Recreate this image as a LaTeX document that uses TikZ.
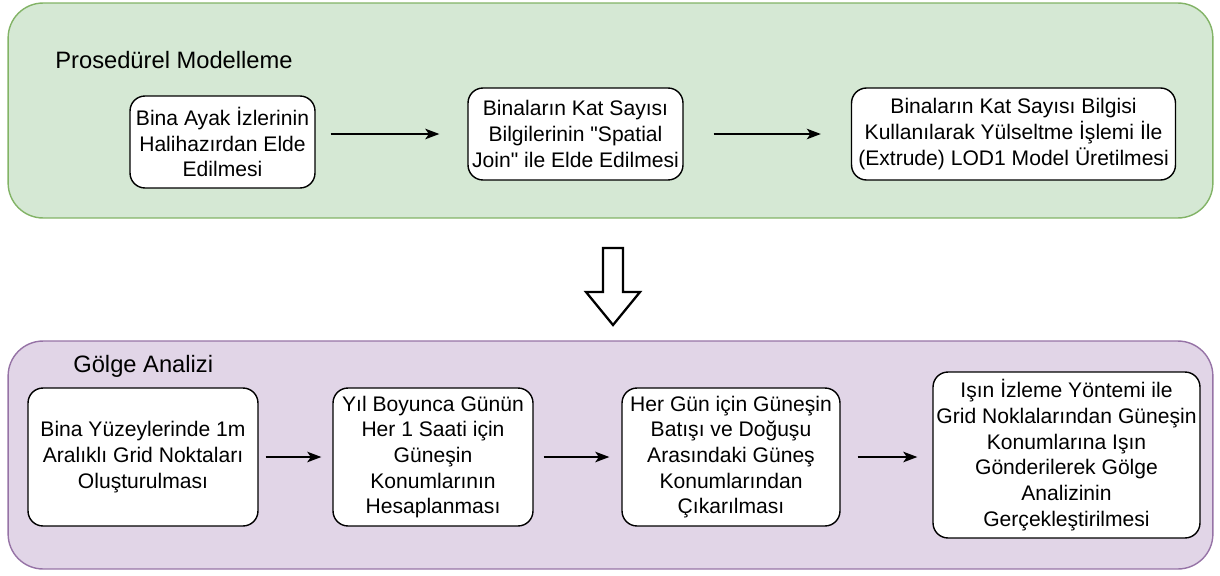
\documentclass[tikz,border=0pt]{standalone}
\usepackage{fontspec}
\setmainfont{Liberation Sans}[Ligatures=TeXOff]
\usetikzlibrary{arrows.meta}

\definecolor{modelfill}{HTML}{D5E8D4}
\definecolor{modeldraw}{HTML}{82B366}
\definecolor{shadefill}{HTML}{E1D5E7}
\definecolor{shadedraw}{HTML}{9673A6}

\tikzset{
    panel/.style={draw, line width=0.8pt, rounded corners=0.7cm, inner sep=0pt},
    stepbox/.style={draw, fill=white, line width=0.8pt, rounded corners=0.3cm,
        align=center, inner sep=0pt, minimum height=1.84cm,
        font=\fontsize{12}{14.6}\selectfont},
    flow/.style={-{Stealth[length=8pt,width=6pt,inset=2pt]}, line width=0.8pt},
    paneltitle/.style={anchor=west, inner sep=0pt, font=\fontsize{13.5}{16}\selectfont}
}

\begin{document}
\begin{tikzpicture}[x=0.02cm, y=-0.02cm]  % one unit is one pixel of the sketch
    \useasboundingbox (0,0) rectangle (1220,575);

    % Draw the two panels
    \node[panel, fill=modelfill, draw=modeldraw, minimum width=24.1cm, minimum height=4.3cm]
        (model) at (610.5,110.5) {};
    \node[panel, fill=shadefill, draw=shadedraw, minimum width=24.1cm, minimum height=4.56cm]
        (shadow) at (610.5,455) {};

    % Panel titles
    \node[paneltitle] (modeltitle) at (55,60) {Prosedürel Modelleme};
    \node[paneltitle] (shadowtitle) at (73,366) {Gölge Analizi};

    % Steps of the procedural modelling
    \node[stepbox, minimum width=3.7cm] (foot) at (222.5,142)
        {Bina Ayak İzlerinin\\Halihazırdan Elde\\Edilmesi};
    \node[stepbox, minimum width=4.3cm] (join) at (575.5,134)
        {Binaların Kat Sayısı\\Bilgilerinin "Spatial\\Join" ile Elde Edilmesi};
    \node[stepbox, minimum width=6.48cm] (lod) at (1013.5,134)
        {Binaların Kat Sayısı Bilgisi\\Kullanılarak Yülseltme İşlemi İle\\(Extrude) LOD1 Model Üretilmesi};

    % Steps of the shadow analysis
    \node[stepbox, minimum width=4.6cm, minimum height=2.76cm] (grid) at (143,457)
        {Bina Yüzeylerinde 1m\\Aralıklı Grid Noktaları\\Oluşturulması};
    \node[stepbox, minimum width=4cm, minimum height=2.76cm] (sun) at (433,457)
        {Yıl Boyunca Günün\\Her 1 Saati için\\Güneşin\\Konumlarının\\Hesaplanması};
    \node[stepbox, minimum width=4.36cm, minimum height=2.76cm] (night) at (731,457)
        {Her Gün için Güneşin\\Batışı ve Doğuşu\\Arasındaki Güneş\\Konumlarından\\Çıkarılması};
    \node[stepbox, minimum width=5.34cm, minimum height=3.32cm] (ray) at (1066.5,455)
        {Işın İzleme Yöntemi ile\\Grid Noklalarından Güneşin\\Konumlarına Işın\\Gönderilerek Gölge\\Analizinin\\Gerçekleştirilmesi};

    % Draw the arrows between the steps
    \draw[flow, shorten <=0.3cm, shorten >=0.56cm] (foot.east |- join.west) -- (join.west);
    \draw[flow, shorten <=0.6cm, shorten >=0.6cm] (join.east) -- (lod.west);
    \draw[flow, shorten <=0.14cm, shorten >=0.22cm] (grid.east) -- (sun.west);
    \draw[flow, shorten <=0.2cm, shorten >=0.24cm] (sun.east) -- (night.west);
    \draw[flow, shorten <=0.34cm, shorten >=0.3cm] (night.east) -- (night.east -| ray.west);

    % Hollow arrow from one panel to the other
    \draw[line width=1.3pt, fill=white, line join=miter]
        (603,248) -- (623,248) -- (623,292) -- (640,292) -- (613,325)
        -- (586,292) -- (603,292) -- cycle;
\end{tikzpicture}
\end{document}
